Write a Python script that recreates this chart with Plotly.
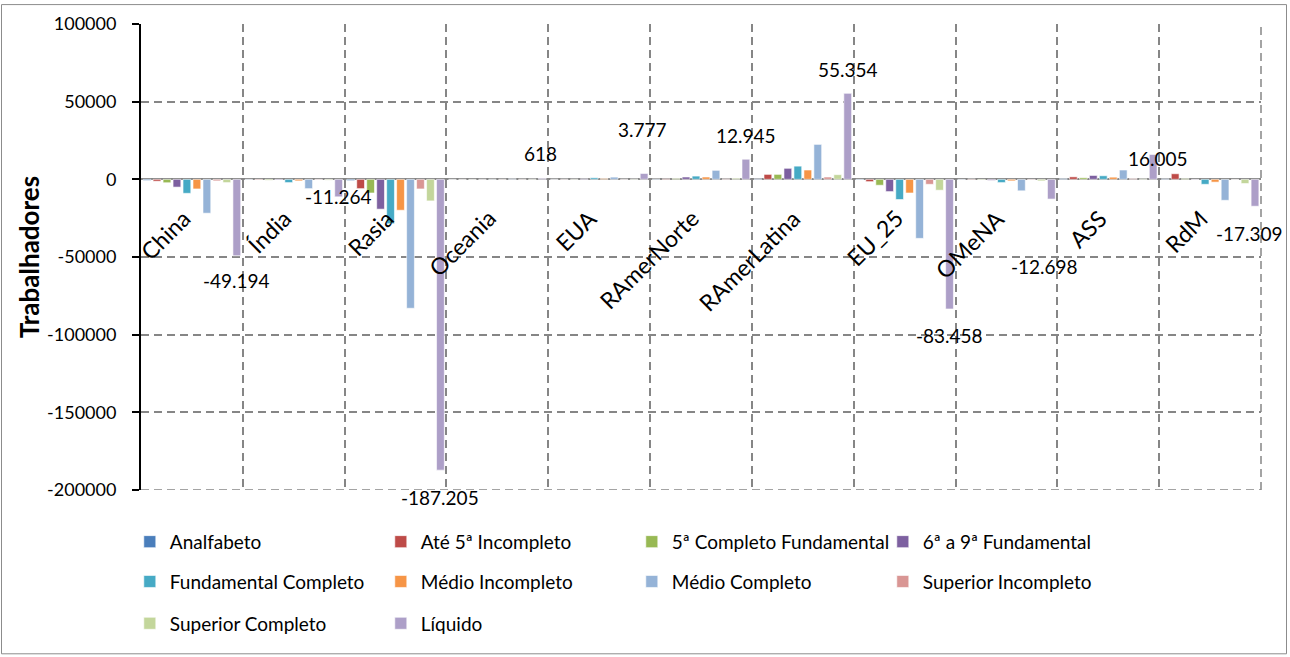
import plotly.graph_objects as go

categories = ["China", "Índia", "Rasia", "Oceania", "EUA", "RAmerNorte",
              "RAmerLatina", "EU_25", "OMeNA", "ASS", "RdM"]

analfabeto = [-700, -200, -800, -50, 50, 200, 300, -300, -200, 400, 300]
ate_5_incompleto = [-1200, -300, -6000, -30, 100, 300, 3200, -1500, 200, 1600, 3600]
quinta_completo_fund = [-2200, -500, -8800, -50, 100, 500, 3200, -3800, -300, 1000, 400]
sexta_a_nona_fund = [-5000, -400, -19200, 30, 300, 1500, 7100, -7900, -600, 2500, -200]
fundamental_completo = [-9000, -2100, -28600, 80, 1000, 2100, 8500, -13000, -2100, 2300, -3200]
medio_incompleto = [-6200, -1000, -19900, 60, 500, 1500, 6000, -8800, -1000, 1400, -1800]
medio_completo = [-21800, -6000, -83000, 300, 1427, 5800, 22500, -38000, -7400, 6000, -13500]
superior_incompleto = [-1000, -264, -6200, 100, 100, 300, 1500, -3200, -300, 500, -100]
superior_completo = [-2100, -500, -13900, 150, 200, 700, 3000, -7000, -1000, 300, -2700]
liquido = [-49194, -11264, -187205, 618, 3777, 12945, 55354, -83458, -12698, 16005, -17309]

series_names = ["Analfabeto", "Até 5ª Incompleto", "5ª Completo Fundamental",
                "6ª a 9ª Fundamental", "Fundamental Completo", "Médio Incompleto",
                "Médio Completo", "Superior Incompleto", "Superior Completo", "Líquido"]
series_values = [analfabeto, ate_5_incompleto, quinta_completo_fund, sexta_a_nona_fund,
                 fundamental_completo, medio_incompleto, medio_completo,
                 superior_incompleto, superior_completo, liquido]

y_tick_values = [100000, 50000, 0, -50000, -100000, -150000, -200000]
y_tick_labels = ["100000", "50000", "0", "-50000", "-100000", "-150000", "-200000"]

# --- style ---
colors = ["#4A7EBB", "#BE4B48", "#98B954", "#7D60A0", "#46AAC5", "#F69546",
          "#95B3D7", "#D99694", "#C3D69B", "#AD9FC8"]
legend_ids = ["legend"] * 4 + ["legend2"] * 4 + ["legend3"] * 2
# pixel offsets of the data labels (as placed in the original chart)
label_dx = [0, 0, 0, -2, -2, 0, 0, 0, -7, 5, -5]
label_dy = [-25, 0, -27, 25, 44, 24, 24, -27, -67, -4, -27]
FONT = "Lato"
GRID = "#868686"
DASH = "8px,5px"
W, H = 1290, 657
ML, MR, MT, MB = 141, 29, 22, 167
PW, PH = W - ML - MR, H - MT - MB

fig = go.Figure()
for name, vals, col, lg in zip(series_names, series_values, colors, legend_ids):
    fig.add_trace(go.Bar(
        x=categories, y=vals, name=name, legend=lg,
        marker=dict(color=col, line=dict(color="white", width=0.6)),
        hoverinfo="x+y+name",
    ))

annotations = []
# rotated category labels near the zero line
for c in categories:
    annotations.append(dict(
        x=c, y=0, xref="x", yref="y", text=c, showarrow=False,
        textangle=-45, xanchor="right", yanchor="top",
        xshift=6, yshift=-22, font=dict(family=FONT, size=23, color="#000000"),
    ))

# data labels for Líquido
slot = PW / len(categories) * (1 - 0.02) / len(series_names)
liq_offset = slot * 4.5
for c, v, dx, dy in zip(categories, liquido, label_dx, label_dy):
    annotations.append(dict(
        x=c, y=v, xref="x", yref="y", text=f"{v:,}".replace(",", "."),
        showarrow=False, xanchor="center", yanchor="middle",
        xshift=liq_offset + dx, yshift=dy,
        font=dict(family=FONT, size=19, color="#000000"),
    ))

shapes = [
    # outer chart border
    dict(type="rect", xref="paper", yref="paper",
         x0=(1.5 - ML) / PW, x1=(W - 3.5 - ML) / PW,
         y0=-(H - 2.5 - MT - PH) / PH, y1=(MT - 2.5) / PH + 1,
         line=dict(color="#8C8C8C", width=1), fillcolor="rgba(0,0,0,0)", layer="below"),
    # right boundary gridline and bottom gridline (at plot edges)
    dict(type="line", xref="paper", yref="paper", x0=1, x1=1, y0=0, y1=1,
         line=dict(color=GRID, width=1.5, dash=DASH), layer="below"),
    dict(type="line", xref="paper", yref="y", x0=0, x1=1,
         y0=y_tick_values[-1], y1=y_tick_values[-1],
         line=dict(color=GRID, width=1.5, dash=DASH), layer="below"),
]

legend_common = dict(
    orientation="h", x=-0.010, xanchor="left", yanchor="middle",
    entrywidth=206, entrywidthmode="pixels", bgcolor="rgba(0,0,0,0)",
    font=dict(family=FONT, size=19, color="#000000"), traceorder="normal",
    itemclick=False, itemdoubleclick=False,
)

fig.update_layout(
    width=W, height=H,
    margin=dict(l=ML, r=MR, t=MT, b=MB),
    paper_bgcolor="white", plot_bgcolor="white",
    font=dict(family=FONT, size=17, color="#000000"),
    barmode="group", bargap=0.02, bargroupgap=0.22,
    showlegend=True,
    legend=dict(legend_common, y=(490 - 542) / PH),
    legend2=dict(legend_common, y=(490 - 582) / PH),
    legend3=dict(legend_common, y=(490 - 624) / PH),
    annotations=annotations, shapes=shapes,
    xaxis=dict(
        type="category", tickson="boundaries", showticklabels=False,
        ticks="", showgrid=True, gridcolor=GRID, gridwidth=1.5,
        griddash=DASH, showline=False, zeroline=False,
        range=[-0.5, len(categories) - 0.5], fixedrange=True,
    ),
    yaxis=dict(
        range=[-200000, 100000], tickvals=y_tick_values, ticktext=y_tick_labels,
        showgrid=True, gridcolor=GRID, gridwidth=1.5, griddash=DASH,
        showline=True, linecolor="#000000", linewidth=2,
        ticks="outside", ticklen=7, tickwidth=2, tickcolor="#000000",
        ticklabelstandoff=12,
        tickfont=dict(family=FONT, size=18, color="#000000"),
        zeroline=True, zerolinecolor=GRID, zerolinewidth=2,
        title=dict(text="<b>Trabalhadores</b>", standoff=0,
                   font=dict(family=FONT, size=26, color="#000000")),
        fixedrange=True,
    ),
    # companion axis only for the inner half of the crossing tick marks
    yaxis2=dict(
        overlaying="y", side="left", anchor="x", matches="y",
        tickvals=y_tick_values, showticklabels=False, showgrid=False,
        zeroline=False, showline=False,
        ticks="inside", ticklen=6, tickwidth=2, tickcolor="#000000",
        fixedrange=True,
    ),
)

fig.write_html("out.html", post_script="document.body.style.margin='0px';",
               config={"displayModeBar": False})
